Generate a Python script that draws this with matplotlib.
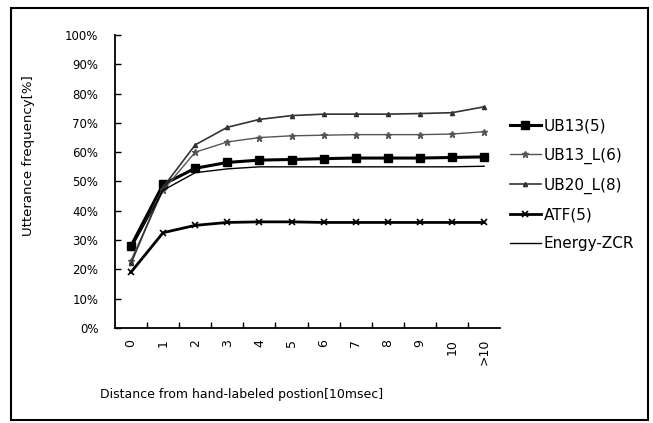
import matplotlib
matplotlib.use("Agg")
import matplotlib.pyplot as plt
from matplotlib.patches import Rectangle
from matplotlib.ticker import FixedLocator, PercentFormatter

# distance categories (10 msec units)
categories = ['0', '1', '2', '3', '4', '5', '6', '7', '8', '9', '10', '>10']

ub13_5 = [28, 49, 54.5, 56.5, 57.3, 57.5, 57.8, 58, 58, 58, 58.2, 58.4]
ub13_l6 = [23, 47, 60, 63.5, 65, 65.6, 65.8, 66, 66, 66, 66.2, 67]
ub20_l8 = [22, 48, 62.5, 68.5, 71.2, 72.5, 73, 73, 73, 73.2, 73.5, 75.5]
atf_5 = [19, 32.5, 35, 36, 36.2, 36.2, 36, 36, 36, 36, 36, 36]
energy_zcr = [27, 47, 53, 54.3, 55, 55, 55, 55, 55, 55, 55, 55.2]

plt.rcParams['font.family'] = ['DejaVu Sans']

fig = plt.figure(figsize=(6.53, 4.23), dpi=100)
ax = fig.add_axes([0.176, 0.225, 0.59, 0.692])

x = list(range(len(categories)))
ax.plot(x, ub13_5, color='black', lw=2.2, marker='s', ms=6, label='UB13(5)')
ax.plot(x, ub13_l6, color='#555555', lw=1.0, marker='*', ms=4.5, label='UB13_L(6)')
ax.plot(x, ub20_l8, color='#333333', lw=1.2, marker='^', ms=3, label='UB20_L(8)')
ax.plot(x, atf_5, color='black', lw=2.0, marker='x', ms=4, mew=1.2, label='ATF(5)')
ax.plot(x, energy_zcr, color='black', lw=1.0, label='Energy-ZCR')

ax.set_xlim(-0.5, len(categories) - 0.5)
ax.set_ylim(0, 100)

ax.set_xticks(x)
ax.set_xticklabels(categories, rotation=90, fontsize=9)
ax.xaxis.set_minor_locator(FixedLocator([i + 0.5 for i in range(len(categories) - 1)]))
ax.tick_params(axis='x', which='major', length=0, pad=8)
ax.tick_params(axis='x', which='minor', direction='in', length=4, width=1)

ax.set_yticks(range(0, 101, 10))
ax.yaxis.set_major_formatter(PercentFormatter(decimals=0))
ax.tick_params(axis='y', direction='in', length=4, width=1, labelsize=8.5, pad=12)

for side in ('top', 'right'):
    ax.spines[side].set_visible(False)
for side in ('left', 'bottom'):
    ax.spines[side].set_linewidth(1.3)

ax.set_ylabel('Utterance frequency[%]', fontsize=9.5)
ax.yaxis.set_label_coords(-0.208, 0.587)
fig.text(0.37, 0.068, 'Distance from hand-labeled postion[10msec]',
         ha='center', va='center', fontsize=9)

ax.legend(loc='center left', bbox_to_anchor=(0.99, 0.488), frameon=False,
          fontsize=11, handlelength=2.0, handletextpad=0.2,
          labelspacing=0.9)

# outer border around the whole chart
fig.patches.append(Rectangle((0.017, 0.008), 0.975, 0.972, transform=fig.transFigure,
                             fill=False, edgecolor='black', lw=1.5))

fig.savefig('out.png', dpi=100, facecolor='white')
